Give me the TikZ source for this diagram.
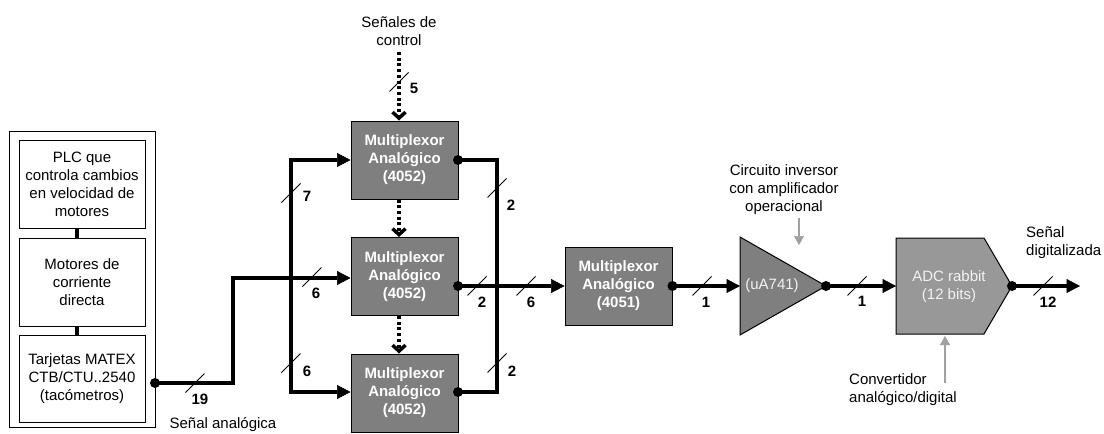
\documentclass[tikz,border=0pt]{standalone}
\usepackage{fontspec}
\setmainfont{Liberation Sans}
\usetikzlibrary{arrows.meta}
\definecolor{muxgray}{HTML}{7F7F7F}
\definecolor{adcgray}{HTML}{989898}
\definecolor{notegray}{HTML}{A0A0A0}
\definecolor{lighttext}{HTML}{F2F2F2}
\newcommand\busmark[1]{\draw[line width=1pt] ([shift={(-9.5,9.5)}]#1) -- ([shift={(9.5,-9.5)}]#1);}
\begin{document}
\begin{tikzpicture}[x=1pt,y=-1pt,
  font=\fontsize{15}{18}\selectfont,
  box/.style={draw=black, line width=1pt, minimum width=126pt, minimum height=88pt, inner sep=0pt, align=center},
  mux/.style={draw=black, line width=1pt, fill=muxgray, text=white, font=\fontsize{15}{18}\selectfont\bfseries, minimum width=107pt, minimum height=78pt, inner sep=0pt, align=center},
  bus/.style={line width=4.6pt},
  tip/.style={-{Triangle[length=13.5pt,width=14pt,line width=0.5pt]}},
  dot/.style={circle, fill=black, inner sep=0pt, minimum size=10pt},
  ctrl/.style={line width=4.5pt, dash pattern=on 3pt off 2.7pt, -{Straight Barb[length=6pt,width=13pt,line width=3.5pt]}},
  note/.style={draw=notegray, line width=2pt, -{Triangle[length=9pt,width=10pt,line width=0.5pt]}},
  num/.style={font=\fontsize{15}{18}\selectfont\bfseries, inner sep=0pt},
  lbl/.style={align=center, inner sep=0pt}
]
\useasboundingbox (0,0) rectangle (1104,434);

% left panel
\node[draw=black, line width=1pt, minimum width=146pt, minimum height=296pt, inner sep=0pt] (outer) at (82,279) {};
\node[box] (plc) at (82,184) {PLC que\\controla cambios\\en velocidad de\\motores};
\node[box] (mot) at (82,282) {Motores de\\corriente\\directa};
\node[box, minimum height=87pt] (tar) at (82,378.5) {Tarjetas MATEX\\CTB/CTU..2540\\(tacómetros)};
\draw[line width=4.6pt] ([xshift=-5pt]plc.south) -- ([xshift=-5pt]mot.north);
\draw[line width=4.6pt] ([xshift=-5pt]mot.south) -- ([xshift=-5pt]tar.north);

% multiplexers
\node[mux] (m1) at (404.5,160) {Multiplexor\\Analógico\\(4052)};
\node[mux] (m2) at (404.5,276.5) {Multiplexor\\Analógico\\(4052)};
\node[mux] (m3) at (404.5,393) {Multiplexor\\Analógico\\(4052)};
\node[mux] (m4) at (618.5,286) {Multiplexor\\Analógico\\(4051)};

% amplifier
\coordinate (ta) at (740,237);
\coordinate (tb) at (826,286);
\coordinate (tc) at (740,335);
\coordinate (ampin) at (740,286);
\draw[fill=muxgray, line width=1pt] (ta) -- (tb) -- (tc) -- cycle;
\node[lbl, text=lighttext] (amp) at (772,286) {(uA741)};

% ADC
\coordinate (a1) at (896,238);
\coordinate (a2) at (984,238);
\coordinate (a3) at (1012,286);
\coordinate (a4) at (984,334);
\coordinate (a5) at (896,334);
\coordinate (adcin) at (896,286);
\draw[fill=adcgray, line width=1pt] (a1) -- (a2) -- (a3) -- (a4) -- (a5) -- cycle;
\node[lbl, text=lighttext] (adc) at (949,287) {ADC rabbit\\(12 bits)};

% source bus
\coordinate (src) at (155,383);
\coordinate (j1) at (233,383);
\coordinate (j2) at (233,278);
\draw[bus,tip] (src) -- (j1) -- (j2) -- (j2 -| m2.west);
\node[dot] (dsrc) at (src) {};

% left bus
\coordinate (lbt) at (291,160);
\coordinate (lbb) at (291,392);
\draw[bus,{Triangle[length=13.5pt,width=14pt,line width=0.5pt]}-{Triangle[length=13.5pt,width=14pt,line width=0.5pt]}]
  (m1.west) -- (lbt) -- (lbb) -- (lbb -| m3.west);

% right bus
\coordinate (o1) at (458,160);
\coordinate (o2) at (458,286);
\coordinate (o3) at (458,392);
\coordinate (rbt) at (497,160);
\coordinate (rbb) at (497,392);
\draw[bus] (o1) -- (rbt) -- (rbb) -- (o3);
\draw[bus,tip] (o2) -- (m4.west);
\node[dot] (d1) at (o1) {};
\node[dot] (d2) at (o2) {};
\node[dot] (d3) at (o3) {};

% chain
\coordinate (ampout) at (826,286);
\coordinate (adcout) at (1012,286);
\coordinate (final) at (1080,286);
\draw[bus,tip] (m4.east) -- (ampin);
\draw[bus,tip] (ampout) -- (adcin);
\draw[bus,tip] (adcout) -- (final);
\node[dot] (d4) at (m4.east) {};
\node[dot] (d5) at (ampout) {};
\node[dot] (d6) at (adcout) {};

% control
\node[lbl] (sig) at (399,31) {Señales de\\control};
\coordinate (ctop) at (399,52);
\draw[ctrl] (ctop) -- (ctop |- m1.north);
\draw[ctrl] ([xshift=-5.5pt]m1.south) -- ([xshift=-5.5pt]m2.north);
\draw[ctrl] ([xshift=-5.5pt]m2.south) -- ([xshift=-5.5pt]m3.north);

% bus width marks
\busmark{195,383}   \node[num] (n19) at (200,399) {19};
\busmark{291,193}   \node[num] (n7) at (307,196) {7};
\busmark{312,277}   \node[num] (n6a) at (316,293) {6};
\busmark{291,363}   \node[num] (n6b) at (307,371) {6};
\busmark{477,286}   \node[num] (n2a) at (482,302) {2};
\busmark{526,286}   \node[num] (n6c) at (531,302) {6};
\busmark{497,188}   \node[num] (n2b) at (511,205) {2};
\busmark{497,363}   \node[num] (n2c) at (512,371) {2};
\busmark{399,82}    \node[num] (n5) at (414,88) {5};
\busmark{702,286}   \node[num] (n1a) at (706,302) {1};
\busmark{857,286}   \node[num] (n1b) at (862,301) {1};
\busmark{1043,286}  \node[num] (n12) at (1048,302) {12};

% notes
\node[lbl] (opnote) at (784,190) {Circuito inversor\\con amplificador\\operacional};
\coordinate (opa) at (799,218);
\coordinate (opb) at (799,245);
\draw[note] (opa) -- (opb);
\node[lbl, align=left, anchor=west] (conv) at (849,390) {Convertidor\\analógico/digital};
\coordinate (cva) at (945,383);
\coordinate (cvb) at (945,336);
\draw[note] (cva) -- (cvb);
\node[lbl, align=left, anchor=west] (dig) at (1026,243) {Señal\\digitalizada};
\node[lbl] (ana) at (223,425) {Señal analógica};
\end{tikzpicture}
\end{document}
